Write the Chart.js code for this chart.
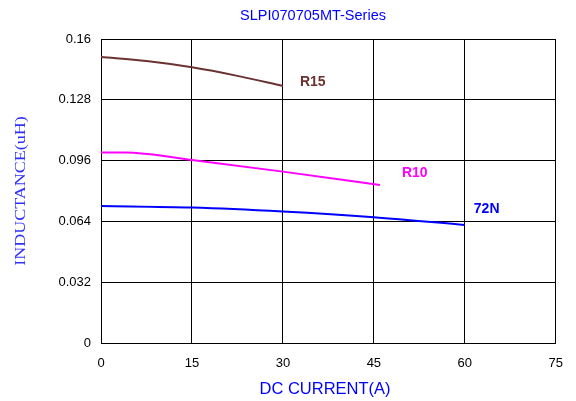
<!DOCTYPE html>
<html><head><meta charset="utf-8">
<script src="https://cdn.jsdelivr.net/npm/chart.js@4/dist/chart.umd.min.js"></script>
<style>html,body{margin:0;padding:0;background:#fff}#wrap{width:576px;height:401px}</style>
</head><body><div id="wrap"><canvas id="c" width="576" height="401"></canvas></div>
<script>
const xR15 = [0, 7.5, 15, 22.5, 30];
const yR15 = [0.1505, 0.1484, 0.1451, 0.1406, 0.1353];
const xR10 = [0, 4, 15, 30, 46];
const yR10 = [0.1002, 0.1003, 0.0963, 0.0902, 0.0832];
const x72N = [0, 15, 30, 45, 60];
const y72N = [0.0721, 0.0713, 0.0692, 0.0662, 0.0621];
const seriesNames = ['R15', 'R10', '72N'];
const xTicks = [0, 15, 30, 45, 60, 75];
const yTickLabels = ['0', '0.032', '0.064', '0.096', '0.128', '0.16'];

const colors = ['#6b3232', '#ff00ff', '#0000ff'];
const toPts = (xs, ys) => xs.map((x, i) => ({x, y: ys[i]}));
const ds = [toPts(xR15, yR15), toPts(xR10, yR10), toPts(x72N, y72N)].map((d, i) => ({
  label: seriesNames[i], data: d, borderColor: colors[i], borderWidth: 2,
  pointRadius: 0, fill: false, cubicInterpolationMode: 'monotone'
}));
const labelOffsets = [[17, -4], [22, -12], [9, -16]];

const overlay = {
  id: 'overlay',
  afterDraw(chart) {
    const ctx = chart.ctx;
    ctx.save();
    ctx.fillStyle = '#0000ff';
    ctx.font = '14.5px "Liberation Sans", Arial, sans-serif';
    ctx.textAlign = 'center'; ctx.textBaseline = 'middle';
    ctx.fillText('SLPI070705MT-Series', 313, 16);
    ctx.font = '16.5px "Liberation Sans", Arial, sans-serif';
    ctx.fillText('DC CURRENT(A)', 325, 389);
    ctx.save();
    ctx.translate(21.5, 191);
    ctx.rotate(-Math.PI / 2);
    ctx.scale(1.2, 1);
    ctx.fillStyle = '#3030ff';
    ctx.font = '15px "Liberation Serif", "Times New Roman", serif';
    ctx.fillText('INDUCTANCE(uH)', 0, 0);
    ctx.restore();
    ctx.font = 'bold 14px "Liberation Sans", Arial, sans-serif';
    ctx.textAlign = 'left';
    chart.data.datasets.forEach((d, i) => {
      const last = d.data[d.data.length - 1];
      const px = chart.scales.x.getPixelForValue(last.x);
      const py = chart.scales.y.getPixelForValue(last.y);
      ctx.fillStyle = colors[i];
      ctx.fillText(d.label, px + labelOffsets[i][0], py + labelOffsets[i][1]);
    });
    ctx.restore();
  }
};

new Chart(document.getElementById('c'), {
  type: 'line',
  data: { datasets: ds },
  options: {
    responsive: false, animation: false, devicePixelRatio: 1,
    layout: { padding: { left: 0, top: 39, right: 19, bottom: 0 } },
    plugins: { legend: { display: false }, title: { display: false }, tooltip: { enabled: false } },
    scales: {
      x: {
        type: 'linear', min: 0, max: 75,
        afterBuildTicks: s => { s.ticks = xTicks.map(v => ({value: v})); },
        afterFit: s => { s.height = 58; },
        grid: { color: '#000', lineWidth: 1, drawTicks: false },
        border: { color: '#000', width: 1 },
        ticks: { color: '#000', padding: 13, font: { size: 13, family: '"Liberation Sans", Arial, sans-serif' }, maxRotation: 0 },
        title: { display: false }
      },
      y: {
        type: 'linear', min: 0, max: 0.16,
        afterBuildTicks: s => { s.ticks = yTickLabels.map(v => ({value: parseFloat(v)})); },
        afterFit: s => { s.width = 101; },
        grid: { color: '#000', lineWidth: 1, drawTicks: false },
        border: { color: '#000', width: 1 },
        ticks: { color: '#000', padding: 10, font: { size: 13, family: '"Liberation Sans", Arial, sans-serif' },
                 callback: (v, i) => yTickLabels[i] },
        title: { display: false }
      }
    }
  },
  plugins: [overlay]
});
</script></body></html>
